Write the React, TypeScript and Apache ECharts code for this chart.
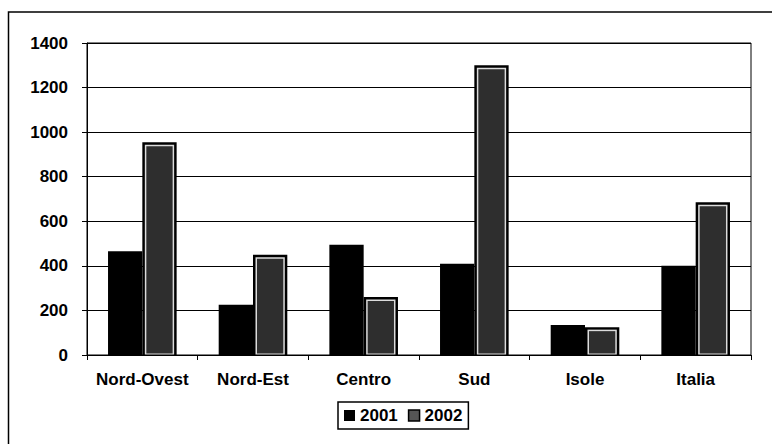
import React, { useEffect, useRef } from "react";
import * as echarts from "echarts";

const categories = ["Nord-Ovest", "Nord-Est", "Centro", "Sud", "Isole", "Italia"];
const values2001 = [465, 225, 495, 410, 135, 400];
const values2002 = [955, 450, 260, 1300, 125, 685];
const seriesNames = ["2001", "2002"];

const FONT = "'Liberation Sans', Arial, sans-serif";
const BAR_FRACTION = 0.31;

function makeRenderer(seriesIndex: number) {
  return (params: any, api: any) => {
    const idx = api.value(0);
    const val = api.value(1);
    const top = api.coord([idx, val]);
    const base = api.coord([idx, 0]);
    const band = api.size([1, 0])[0];
    const w = band * BAR_FRACTION;
    const x = seriesIndex === 0 ? top[0] - w : top[0];
    const y = top[1];
    const h = base[1] - top[1];
    if (seriesIndex === 0) {
      return {
        type: "rect",
        shape: { x, y, width: w, height: h },
        style: { fill: "#000" },
      };
    }
    return {
      type: "group",
      children: [
        { type: "rect", shape: { x, y, width: w, height: h }, style: { fill: "#000" } },
        {
          type: "rect",
          shape: { x: x + 2.5, y: y + 2.5, width: w - 5, height: h - 3 },
          style: { fill: "#dcdcdc" },
        },
        {
          type: "rect",
          shape: { x: x + 4, y: y + 4, width: w - 8, height: h - 5.5 },
          style: { fill: "#2e2e2e" },
        },
      ],
    };
  };
}

export default function App() {
  const ref = useRef<HTMLDivElement>(null);

  useEffect(() => {
    if (!ref.current) return;
    const chart = echarts.init(ref.current, undefined, { renderer: "svg" });
    chart.setOption({
      animation: false,
      backgroundColor: "#fff",
      textStyle: { fontFamily: FONT },
      graphic: [
        {
          type: "rect",
          shape: { x: 8.5, y: 12, width: 800, height: 500 },
          style: { fill: "none", stroke: "#000", lineWidth: 1.5 },
          silent: true,
        },
      ],
      legend: {
        data: [
          { name: seriesNames[0], icon: "rect", itemStyle: { color: "#000" } },
          {
            name: seriesNames[1],
            icon: "rect",
            itemStyle: { color: "#555", borderColor: "#000", borderWidth: 1.5 },
          },
        ],
        left: 338,
        top: 402,
        itemWidth: 11,
        itemHeight: 11,
        itemGap: 10,
        padding: [5, 6, 5, 6],
        borderColor: "#000",
        borderWidth: 1.5,
        textStyle: { fontFamily: FONT, fontWeight: "bold", fontSize: 17, color: "#000" },
      },
      grid: {
        left: 87,
        right: 21,
        top: 43,
        bottom: 89,
        show: true,
        borderColor: "#000",
        borderWidth: 1,
      },
      xAxis: {
        type: "category",
        data: categories,
        axisLine: { lineStyle: { color: "#000", width: 1 } },
        axisTick: { show: true, length: 5, lineStyle: { color: "#000" } },
        axisLabel: {
          interval: 0,
          color: "#000",
          fontFamily: FONT,
          fontWeight: "bold",
          fontSize: 17,
          margin: 16,
        },
      },
      yAxis: {
        type: "value",
        min: 0,
        max: 1400,
        interval: 200,
        axisLine: { show: true, lineStyle: { color: "#000", width: 1 } },
        axisTick: { show: true, length: 5, lineStyle: { color: "#000" } },
        splitLine: { lineStyle: { color: "#000", width: 1 } },
        axisLabel: {
          formatter: (v: number) => String(v),
          color: "#000",
          fontFamily: FONT,
          fontWeight: "bold",
          fontSize: 17,
          margin: 19,
        },
      },
      series: [
        {
          name: seriesNames[0],
          type: "custom",
          renderItem: makeRenderer(0),
          encode: { x: 0, y: 1 },
          data: values2001.map((v, i) => [i, v]),
          itemStyle: { color: "#000" },
        },
        {
          name: seriesNames[1],
          type: "custom",
          renderItem: makeRenderer(1),
          encode: { x: 0, y: 1 },
          data: values2002.map((v, i) => [i, v]),
          itemStyle: { color: "#555" },
        },
      ],
    });
    return () => chart.dispose();
  }, []);

  return (
    <div
      ref={ref}
      style={{ position: "fixed", left: 0, top: 0, width: 772, height: 444 }}
    />
  );
}
